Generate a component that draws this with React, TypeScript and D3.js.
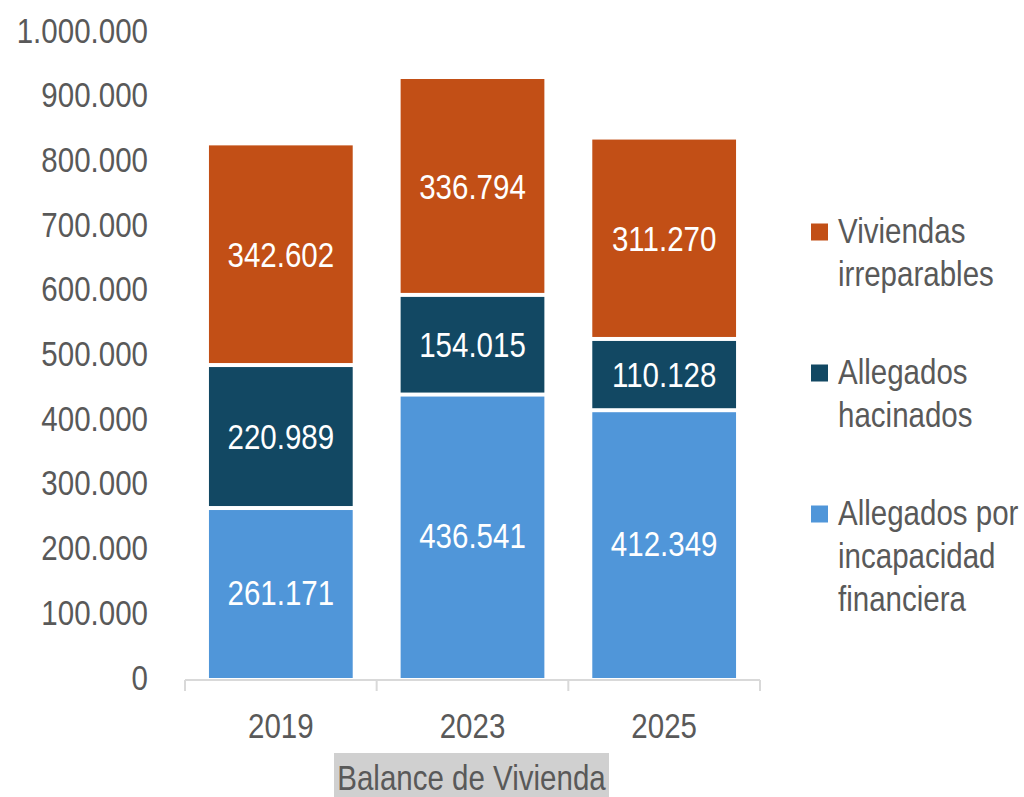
import * as d3 from 'd3';

const years = ['2019', '2023', '2025'];
const incapacidad = [261171, 436541, 412349];
const hacinados = [220989, 154015, 110128];
const irreparables = [342602, 336794, 311270];
const yTicks = [0, 100000, 200000, 300000, 400000, 500000, 600000, 700000, 800000, 900000, 1000000];

const seriesNames = [
  ['Allegados por', 'incapacidad', 'financiera'],
  ['Allegados', 'hacinados'],
  ['Viviendas', 'irreparables'],
];
const colors = ['#5096d9', '#124863', '#c24f16'];

// no narrow font installed, so squeeze Liberation Sans horizontally
const font = '"Liberation Sans", Arial, sans-serif';
const textColor = '#595959';
const squeeze = 0.82;

const fmt = (v: number) => d3.format(',')(v).replace(/,/g, '.');

const NText = ({ x, y, anchor = 'start', fill = textColor, children }: any) => (
  <text transform={`translate(${x},${y - 2}) scale(${squeeze},1)`} textAnchor={anchor}
    dominantBaseline="central" fontFamily={font} fontSize={36} fill={fill}>{children}</text>
);

export default function App() {
  const width = 1024;
  const height = 797;

  const x = d3.scaleBand().domain(years).range([185, 760]).paddingInner(0.25).paddingOuter(0.125);
  const axisBand = d3.scaleBand().domain(years).range([185, 760]);
  const y = d3.scaleLinear().domain([0, 1000000]).range([679, 32]);

  const table = years.map((yr, i) => ({
    year: yr,
    s0: incapacidad[i],
    s1: hacinados[i],
    s2: irreparables[i],
  }));
  const stacked = d3.stack<any>().keys(['s0', 's1', 's2'])(table);

  // legend order top to bottom
  const legend = [
    { idx: 2, y: 232 },
    { idx: 1, y: 373 },
    { idx: 0, y: 514 },
  ];

  return (
    <svg width={width} height={height} style={{ position: 'absolute', left: 0, top: 0, background: '#fff' }}>
      {/* y tick labels */}
      {yTicks.map(t => (
        <NText key={t} x={148} y={y(t)} anchor="end">{fmt(t)}</NText>
      ))}

      {/* bars */}
      {stacked.map((layer, si) => (
        <g key={si}>
          {layer.map((d, i) => {
            const top = y(d[1]);
            const bottom = y(d[0]) - (si === 0 ? 1 : 4);
            const x0 = x(years[i]) as number;
            return (
              <g key={i}>
                <rect x={x0} y={top} width={x.bandwidth()} height={bottom - top} fill={colors[si]} />
                <NText x={x0 + x.bandwidth() / 2} y={(y(d[0]) + y(d[1])) / 2} anchor="middle" fill="#fff">
                  {fmt(d[1] - d[0])}
                </NText>
              </g>
            );
          })}
        </g>
      ))}

      {/* x axis */}
      <line x1={185} x2={760} y1={680} y2={680} stroke="#d9d9d9" strokeWidth={2} />
      {[...years.map(yr => axisBand(yr) as number), 760].map((tx, i) => (
        <line key={i} x1={tx} x2={tx} y1={680} y2={691} stroke="#d9d9d9" strokeWidth={2} />
      ))}
      {years.map(yr => (
        <NText key={yr} x={(axisBand(yr) as number) + axisBand.bandwidth() / 2} y={727} anchor="middle">{yr}</NText>
      ))}

      {/* axis title */}
      <rect x={334} y={753} width={275} height={50} fill="#d0d0d0" />
      <NText x={471.5} y={779} anchor="middle">Balance de Vivienda</NText>

      {/* legend */}
      {legend.map(l => (
        <g key={l.idx}>
          <rect x={811} y={l.y - 8.5} width={17} height={17} fill={colors[l.idx]} />
          {seriesNames[l.idx].map((line, k) => (
            <NText key={k} x={838} y={l.y + k * 43}>{line}</NText>
          ))}
        </g>
      ))}
    </svg>
  );
}
